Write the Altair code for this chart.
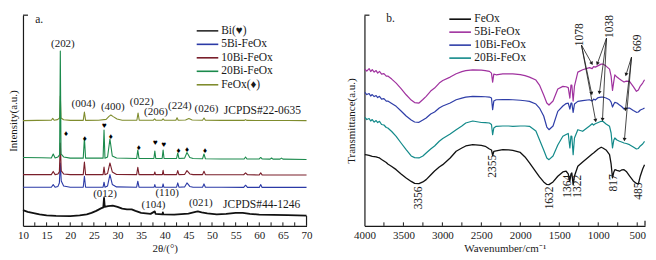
import math
import altair as alt
import pandas as pd

FONT = "Liberation Serif"
INK = "#1a1a1a"
W1, W2, H = 284, 281, 211
YMAX = 211

# ---------------- panel a: XRD ----------------
feox_t = [10, 13, 16.0, 16.3, 16.6, 17.3, 17.75, 17.9, 18.05, 18.6, 20, 22.75, 23.0, 23.25, 26,
          27.6, 28.2, 28.6, 29.1, 29.9, 31, 34.1, 34.35, 34.6, 37.6, 37.85, 38.1, 39.4, 39.65, 39.9,
          42.35, 42.6, 42.85, 44.4, 45.1, 45.8, 48.0, 48.3, 48.6, 52, 56.8, 57.1, 57.4, 62, 66, 70]
feox_v = [105.4, 105.6, 105.8, 107.6, 105.8, 106.4, 108, 130, 108, 106.2, 105.6, 105.6, 114, 105.6, 105.7,
          106.6, 109.6, 111, 109.4, 107, 105.8, 105.8, 113, 105.8, 105.8, 107.2, 105.8, 105.8, 107.2, 105.8,
          105.8, 108.2, 105.8, 106, 107.5, 106, 105.8, 108, 105.8, 105.6, 105.6, 106.4, 105.6, 105.5, 105.5, 105.4]

bi20_t = [10, 14, 16.0, 16.4, 16.8, 17.4, 17.75, 17.9, 18.05, 18.6, 20, 22.75, 23.0, 23.25, 26.95,
          27.15, 27.35, 27.9, 28.4, 28.9, 29.8, 34.05, 34.3, 34.55, 37.7, 37.9, 38.1, 39.45, 39.65, 39.85,
          42.5, 42.75, 43.0, 44.2, 44.7, 45.3, 46.0, 48.0, 48.3, 48.6, 52, 56.8, 57.1, 57.4, 60.0,
          60.3, 60.6, 62.3, 62.6, 62.9, 64.4, 64.7, 65.0, 70]
bi20_v = [68.5, 68.2, 68, 72, 68, 69, 71, 175, 72, 69, 67.8, 67.8, 88, 67.8, 67.8,
          96, 67.8, 69, 87, 70, 68, 67.5, 76, 67.5, 67.5, 75, 67.5, 67.5, 76, 67.5,
          67.5, 73, 67.5, 67.8, 73.5, 68.5, 67.5, 67.2, 72, 67.2, 67, 67, 69, 67, 67,
          68.5, 67, 66.8, 68, 66.8, 66.8, 67.8, 66.8, 66.5]

bi_lo_t = [10, 14, 16.0, 16.4, 16.8, 17.4, 17.7, 17.9, 18.1, 18.6, 20, 22.75, 23.0, 23.25, 26.95,
           27.15, 27.35, 27.9, 28.4, 28.9, 29.8, 34.05, 34.3, 34.55, 37.75, 37.9, 38.05, 39.5, 39.65, 39.8,
           42.5, 42.75, 43.0, 44.2, 44.7, 45.3, 46.0, 48.0, 48.3, 48.6, 52, 56.7, 57.1, 57.5, 60.0,
           60.3, 60.6, 65, 70]
bi10_v = [51.3, 51.3, 51.3, 54.5, 51.3, 52, 54, 83, 55, 52, 51.3, 51.3, 64, 51.3, 51.3,
          59, 51.3, 52.5, 63, 54, 51.5, 51.3, 58.7, 51.3, 51.3, 54, 51.3, 51.3, 55.7, 51.3,
          51.3, 55.3, 51.3, 51.5, 55.3, 52, 51.3, 51.3, 54.7, 51.3, 51.2, 51.2, 53, 51.2, 51,
          53, 51, 51, 51]
bi5_v = [38.7, 38.7, 38.7, 41.3, 38.7, 39.5, 43, 63, 45, 40, 38.7, 38.7, 49.7, 38.7, 38.7,
         43.7, 38.7, 40, 51.3, 41.5, 39, 38.7, 44.7, 38.7, 38.7, 41.3, 38.7, 38.7, 42, 38.7,
         38.7, 43, 38.7, 39, 43, 39.5, 38.7, 38.7, 42, 38.7, 38.6, 38.5, 40.7, 38.5, 38.5,
         41.3, 38.5, 38.5, 38.5]

bi_t = [10, 11, 12, 13.5, 15, 17, 20, 22, 23.5, 24.5, 25.5, 26.5, 27.0, 27.15, 27.3,
        28, 29, 30, 31, 32, 33, 33.8, 35, 37, 37.9, 38.05, 39.5, 39.6, 39.7,
        42, 45, 46.5, 47, 47.8, 49, 51, 53, 55, 56.5, 58, 60, 63, 66, 70]
bi_v = [15.7, 14, 13, 11.5, 10.5, 10, 9.8, 10.5, 11.5, 13, 15, 17.5, 18.5, 28, 19,
        19.7, 20.3, 19, 17.2, 16.5, 16.5, 15, 13, 12, 14.5, 12, 11.5, 13.5, 11.5,
        11.3, 12.3, 14, 14.5, 13.5, 12.5, 11.5, 12, 13, 13, 12, 11.3, 11, 10.7, 10.3]

mk_t = [19.1, 23.1, 27.2, 28.6, 34.5, 38.0, 39.8, 42.9, 44.7, 48.5]
mk_v = [92, 87, 99.7, 89, 77.7, 83, 80.7, 75.3, 75.5, 74.7]
mk_s = ["♦", "♦", "♥", "♦", "♦", "♥", "♥", "♦", "♦", "♦"]

hkl_text = ["(202)", "(004)", "(400)", "(022)", "(206)", "(224)", "(026)", "(012)", "(110)", "(104)", "(021)"]
hkl_t = [18.44, 22.79, 29.0, 35.12, 38.13, 43.2, 48.83, 27.37, 40.5, 37.6, 47.63]
hkl_v = [182.3, 122, 118.7, 124, 114, 119.7, 117, 32.3, 33.0, 20.8, 23]

card_text = ["JCPDS#22-0635", "JCPDS#44-1246", "a."]
card_t = [52.49, 52.34, 12.6]
card_v = [114.7, 21.3, 206]

leg_a_labels = ["Bi(♥)", "5Bi-FeOx", "10Bi-FeOx", "20Bi-FeOx", "FeOx(♦)"]
leg_a_colors = ["#2a2a2a", "#2b3aa6", "#7a1f2b", "#1b8a4c", "#7f8c2d"]
ticks_a = [12.5 + 2.5 * i for i in range(23)]

# ---------------- panel b: FTIR ----------------
wn = [3995, 3970, 3940, 3920, 3900, 3875, 3850, 3830, 3807, 3780, 3750, 3720, 3700,
      3650, 3593, 3530, 3465, 3400, 3356, 3300, 3250, 3208, 3150, 3100, 3040, 2995, 2900, 2823,
      2750, 2700, 2610, 2500, 2450, 2396, 2370, 2355, 2340, 2310, 2225, 2150, 2096, 2000, 1940,
      1882, 1800, 1754, 1700, 1660, 1632, 1580, 1519, 1454, 1412, 1385, 1364, 1350, 1339, 1322,
      1305, 1262, 1200, 1112, 1078, 1060, 1038, 1000, 962, 941, 900, 855, 835, 817, 800,
      787, 760, 727, 700, 669, 640, 599, 550, 510, 485, 460, 430, 406]
ir_feox = [71.3, 71, 70.5, 70, 69.5, 69.3, 69, 68.5, 68, 66.5, 65, 63.5, 62,
           59.5, 56.3, 52, 48, 44.5, 42.5, 42.3, 44, 46.3, 51, 55, 59, 61.3, 68, 74.7,
           78, 80, 81.3, 80.5, 79.7, 77, 76, 70.5, 74.5, 75, 76.3, 76, 75.5, 73.5, 69,
           63, 54, 49, 44, 41.5, 41.3, 44, 49.7, 54, 54.7, 52, 44.7, 52, 53, 41.3,
           50, 59.7, 64, 69.7, 72, 73, 74.5, 77, 78.7, 78, 76, 71.3, 62, 48, 54,
           56.3, 55.5, 54.7, 56, 56.3, 54.5, 50, 45, 42.5, 42, 50, 57, 61.3]
ir_5bi = [157, 155, 157.5, 154.5, 156.5, 154, 155.5, 153, 154.7, 152, 152.5, 150, 150,
          147, 143, 137.5, 131.3, 126, 123.5, 123, 126.5, 129.7, 135, 138, 143, 145.5, 149, 152.3,
          154.5, 155.5, 156.3, 156, 155.5, 154.7, 153, 144, 152, 151.3, 152.3, 152.3, 152.3, 151.5, 150.5,
          149, 146, 141, 131, 123, 121, 125, 137, 139.7, 139.3, 138.5, 128, 141, 141, 125,
          140, 154, 156.3, 158.5, 157.5, 159.5, 159, 160.5, 162, 162, 160, 157, 150, 135.7, 145,
          151.3, 149, 147, 145.5, 144, 145, 144.7, 139.5, 134.7, 136, 140, 143, 146.3]
ir_10bi = [133.7, 131.5, 132.5, 130, 131.5, 129.5, 130.5, 128.5, 129.7, 127, 127.5, 125, 125,
           122.5, 119.7, 115, 110, 106, 104, 103.7, 106, 108, 112, 114, 118, 120, 123, 126.3,
           128, 129, 129.7, 129.5, 129.3, 129, 128, 116.3, 125, 126.3, 126.5, 126.5, 126.3, 125.8, 125.3,
           124.7, 122, 118, 110, 99, 96.3, 100, 114.7, 120, 122.5, 123, 117, 123, 123, 113.7,
           122, 124.7, 125.5, 126.3, 125, 127, 126, 128.5, 129, 129, 128, 126.3, 124, 119, 122,
           123.7, 123, 121, 119.5, 117, 118, 118, 115.5, 113.7, 114, 116, 117, 118]
ir_20bi = [108.7, 106.5, 107.5, 105, 106.5, 104, 105.5, 103.5, 104.7, 101.5, 101, 98.5, 98,
           94.5, 89.7, 83, 76.3, 70, 68.3, 68, 70, 73, 77, 80, 84.7, 87.5, 92, 96.3,
           100, 103, 105, 103.5, 103.3, 103, 101.5, 91.3, 98, 99.7, 100, 100, 99.7, 100, 100,
           99.7, 95, 86.3, 76, 68, 66.3, 70, 81, 89.7, 91.5, 92.5, 78, 90, 89.7, 71.3,
           88, 96.3, 94.7, 100, 102.3, 101, 102.3, 103.5, 104.7, 104.7, 102, 99.7, 93, 78, 86,
           88, 86, 84.7, 84, 83, 82.5, 81.3, 79, 77, 77.5, 80, 82, 84.7]

ir_lab_text = ["3356", "2355", "1632", "1364", "1322", "817", "485", "1078", "1038", "669"]
ir_lab_wn = [3303, 2353, 1625, 1391, 1262, 804, 479, 1232, 843, 492]
ir_lab_v = [28, 59.7, 28, 39.7, 39.7, 43, 34.7, 191.3, 199.7, 183]

arr_wn0 = [1215, 1215, 1215, 894, 894, 894, 573, 573, 573]
arr_v0 = [181, 181, 181, 188, 188, 188, 169, 169, 169]
arr_wn1 = [1086, 1086, 1035, 1009, 984, 945, 641, 650, 663]
arr_v1 = [163, 133, 106, 163, 134, 107, 152, 117, 87]

leg_b_labels = ["FeOx", "5Bi-FeOx", "10Bi-FeOx", "20Bi-FeOx"]
leg_b_colors = ["#111111", "#a0329f", "#2f3ea8", "#138a8a"]
ticks_b = [3750 - 250 * i for i in range(14)]

# ---------------- scales / axes ----------------
y_scale = alt.Scale(domain=[0, YMAX], nice=False, zero=False)
xa_scale = alt.Scale(domain=[10, 70], nice=False, zero=False)
xb_scale = alt.Scale(domain=[400, 4000], nice=False, zero=False, reverse=True)

common_axis = dict(grid=False, ticks=False, tickSize=0, domainColor=INK, domainWidth=1.2,
                   labelFont=FONT, labelFontSize=11, labelColor=INK, titleFont=FONT,
                   titleFontSize=11, titleFontWeight="normal", titleColor=INK)
xa_axis = alt.Axis(values=list(range(10, 71, 5)), title="2θ/(°)", labelPadding=4, titlePadding=2,
                   labelFlush=False, labelOverlap=False, format="d", **common_axis)
xb_axis = alt.Axis(values=list(range(4000, 499, -500)), title="Wavenumber/cm⁻¹", labelPadding=4,
                   titlePadding=2, labelFlush=False, labelOverlap=False, format="d", **common_axis)
ya_axis = alt.Axis(title="Intensity(a.u.)", labels=False, titlePadding=4, **common_axis)
yb_axis = alt.Axis(title="Transmittance(a.u.)", labels=False, titlePadding=8, **common_axis)


def xa(f):
    return alt.X(f, type="quantitative", scale=xa_scale, axis=xa_axis)


def xb(f):
    return alt.X(f, type="quantitative", scale=xb_scale, axis=xb_axis)


def ya(f):
    return alt.Y(f, type="quantitative", scale=y_scale, axis=ya_axis)


def yb(f):
    return alt.Y(f, type="quantitative", scale=y_scale, axis=yb_axis)


def line(xs, ys, color, w, xenc, yenc):
    df = pd.DataFrame({"x": xs, "y": ys})
    return alt.Chart(df).mark_line(color=color, strokeWidth=w, strokeJoin="round").encode(
        x=xenc("x"), y=yenc("y"))


def legend(labels, colors, x0, x1, tx, y0, dy):
    df = pd.DataFrame({"label": labels, "c": colors})
    df["yy"] = [y0 + i * dy for i in range(len(labels))]
    df["x0"] = x0
    df["x1"] = x1
    df["tx"] = tx
    rules = alt.Chart(df).mark_rule(strokeWidth=1.6).encode(
        x=alt.X("x0:Q", scale=None), x2="x1:Q", y=alt.Y("yy:Q", scale=None),
        color=alt.Color("c:N", scale=None))
    texts = alt.Chart(df).mark_text(align="left", baseline="middle", font=FONT, fontSize=11.5,
                                    color=INK).encode(
        x=alt.X("tx:Q", scale=None), y=alt.Y("yy:Q", scale=None), text="label:N")
    return [rules, texts]


def frame(width, end_len):
    one = pd.DataFrame({"k": [0]})
    top = alt.Chart(one).mark_rule(color=INK, strokeWidth=1.2).encode(
        x=alt.value(0), x2=alt.value(5), y=alt.value(0))
    end = alt.Chart(one).mark_rule(color=INK, strokeWidth=1.2).encode(
        x=alt.value(width), y=alt.value(H - end_len), y2=alt.value(H))
    return [top, end]


# ---- panel a layers ----
ticks_a_layer = alt.Chart(pd.DataFrame({"x": ticks_a})).mark_rule(color=INK, strokeWidth=1).encode(
    x=xa("x"), y=alt.value(H - 3.5), y2=alt.value(H))
mk_layer = alt.Chart(pd.DataFrame({"x": mk_t, "y": mk_v, "s": mk_s})).mark_text(
    fontSize=8, baseline="middle", color="#000").encode(x=xa("x"), y=ya("y"), text="s:N")
hkl_layer = alt.Chart(pd.DataFrame({"x": hkl_t, "y": hkl_v, "s": hkl_text})).mark_text(
    font=FONT, fontSize=11, baseline="middle", color=INK).encode(x=xa("x"), y=ya("y"), text="s:N")
card_layer = alt.Chart(pd.DataFrame({"x": card_t, "y": card_v, "s": card_text})).mark_text(
    font=FONT, fontSize=11.5, baseline="middle", align="left", color=INK).encode(
    x=xa("x"), y=ya("y"), text="s:N")

panel_a = alt.layer(
    ticks_a_layer,
    line(feox_t, feox_v, leg_a_colors[4], 1.1, xa, ya),
    line(bi_t, bi_v, "#111111", 1.8, xa, ya),
    line(bi_lo_t, bi5_v, leg_a_colors[1], 1.1, xa, ya),
    line(bi_lo_t, bi10_v, leg_a_colors[2], 1.1, xa, ya),
    line(bi20_t, bi20_v, leg_a_colors[3], 1.1, xa, ya),
    mk_layer, hkl_layer, card_layer,
    *legend(leg_a_labels, leg_a_colors, 174, 195.6, 198.5, 15.7, 13.5),
    *frame(W1, 10),
).properties(width=W1, height=H)

# ---- panel b layers ----
sx = W2 / 3600.0
sy = H / YMAX
arr_ang = []
for a0, b0, a1, b1 in zip(arr_wn0, arr_v0, arr_wn1, arr_v1):
    dx = -(a1 - a0) * sx
    dy = -(b1 - b0) * sy
    arr_ang.append(math.degrees(math.atan2(dx, -dy)) % 360)

arr_df = pd.DataFrame({"x0": arr_wn0, "y0": arr_v0, "x1": arr_wn1, "y1": arr_v1, "ang": arr_ang})
arrow_lines = alt.Chart(arr_df).mark_rule(color=INK, strokeWidth=0.8).encode(
    x=xb("x0"), y=yb("y0"), x2="x1:Q", y2="y1:Q")
arrow_heads = alt.Chart(arr_df).mark_point(shape="triangle", filled=True, size=16, color=INK,
                                           opacity=1).encode(
    x=xb("x1"), y=yb("y1"), angle=alt.Angle("ang:Q", scale=None))
ticks_b_layer = alt.Chart(pd.DataFrame({"x": ticks_b})).mark_rule(color=INK, strokeWidth=1).encode(
    x=xb("x"), y=alt.value(H - 3.5), y2=alt.value(H))
ir_lab_layer = alt.Chart(pd.DataFrame({"x": ir_lab_wn, "y": ir_lab_v, "s": ir_lab_text})).mark_text(
    font=FONT, fontSize=11.5, angle=270, align="center", baseline="middle", color=INK).encode(
    x=xb("x"), y=yb("y"), text="s:N")
b_letter = alt.Chart(pd.DataFrame({"x": [3721], "y": [207], "s": ["b."]})).mark_text(
    font=FONT, fontSize=11.5, align="left", baseline="middle", color=INK).encode(
    x=xb("x"), y=yb("y"), text="s:N")

panel_b = alt.layer(
    ticks_b_layer,
    line(wn, ir_feox, leg_b_colors[0], 1.3, xb, yb),
    line(wn, ir_5bi, leg_b_colors[1], 1.2, xb, yb),
    line(wn, ir_10bi, leg_b_colors[2], 1.2, xb, yb),
    line(wn, ir_20bi, leg_b_colors[3], 1.2, xb, yb),
    arrow_lines, arrow_heads, ir_lab_layer, b_letter,
    *legend(leg_b_labels, leg_b_colors, 85, 106.7, 110, 4, 13),
    *frame(W2, 5),
).properties(width=W2, height=H)

chart = alt.hconcat(panel_a, panel_b, spacing=58, bounds="flush").properties(
    padding={"left": 0, "top": 4, "right": 2, "bottom": 0}
).configure(font=FONT).configure_view(stroke=None)

chart.save("out.html", embed_options={"renderer": "svg", "actions": False})
